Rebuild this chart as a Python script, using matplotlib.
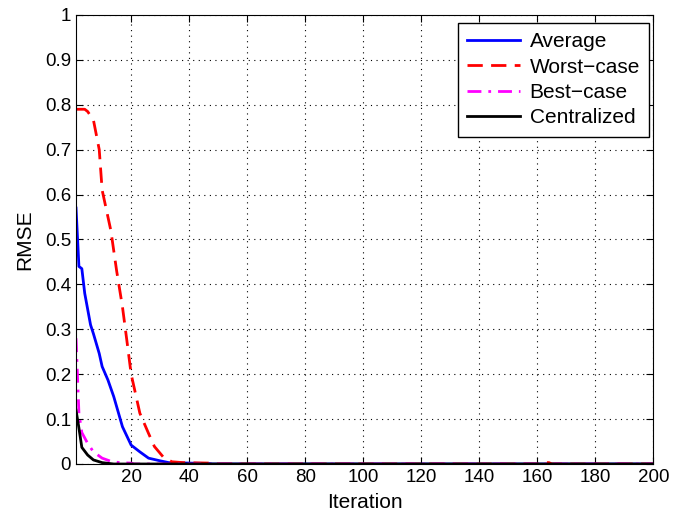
import numpy as np
import matplotlib.pyplot as plt

plt.rcParams['font.family'] = ['Liberation Sans', 'DejaVu Sans']

# values
avg_x = [1, 2, 3, 4, 6, 7, 9, 10, 12, 14, 17, 20, 23, 26, 30, 33, 40, 47, 48, 200]
avg_y = [0.57, 0.44, 0.435, 0.38, 0.31, 0.29, 0.246, 0.217, 0.187, 0.15, 0.083, 0.042,
         0.027, 0.013, 0.007, 0.003, 0.002, 0.001, 0.0, 0.0]

worst_x = [1, 4, 5, 7, 9, 10, 13, 15, 17, 18.5, 20, 23, 26, 28, 31, 34, 38, 47, 48,
           96, 97, 98, 161, 162, 164, 165, 200]
worst_y = [0.79, 0.79, 0.785, 0.766, 0.70, 0.61, 0.52, 0.43, 0.35, 0.276, 0.20, 0.113,
           0.068, 0.039, 0.016, 0.005, 0.003, 0.002, 0.0,
           0.0, 0.002, 0.0, 0.0, 0.003, 0.003, 0.0, 0.0]

best_x = [1, 2, 3, 5, 7, 10, 13, 16, 20, 21, 200]
best_y = [0.28, 0.113, 0.07, 0.046, 0.027, 0.013, 0.006, 0.003, 0.002, 0.0, 0.0]

cent_x = [1, 2, 3, 5, 7, 10, 14, 200]
cent_y = [0.12, 0.08, 0.037, 0.02, 0.009, 0.003, 0.0, 0.0]

fig = plt.figure(figsize=(6.74, 5.16), dpi=100)
ax = fig.add_axes([0.1128, 0.1008, 0.8567, 0.8702])

ax.plot(avg_x, avg_y, color='blue', lw=2, label='Average')
ax.plot(worst_x, worst_y, color='red', lw=2, ls=(0, (5.5, 3)), label='Worst\u2212case')
ax.plot(best_x, best_y, color='magenta', lw=2, ls=(0, (5, 2.5, 1, 2.5)), label='Best\u2212case')
ax.plot(cent_x, cent_y, color='black', lw=2, label='Centralized')

ax.set_xlim(1, 200)
ax.set_ylim(0, 1)
ax.set_xticks(np.arange(20, 201, 20))
ax.set_yticks(np.arange(0, 1.01, 0.1))
ax.set_yticklabels(['0', '0.1', '0.2', '0.3', '0.4', '0.5', '0.6', '0.7', '0.8', '0.9', '1'])
ax.tick_params(direction='in', top=True, right=True, labelsize=13.5, length=5)
ax.grid(True, color='black', ls=(0, (1, 4)), lw=0.8)
ax.set_xlabel('Iteration', fontsize=15, labelpad=5)
ax.set_ylabel('RMSE', fontsize=15, labelpad=8)

leg = ax.legend(loc='upper right', bbox_to_anchor=(0.993, 0.982), fontsize=15,
                fancybox=False, edgecolor='black', framealpha=1, borderaxespad=0,
                handlelength=2.55, handletextpad=0.45, labelspacing=0.3, borderpad=0.45)
leg.get_frame().set_linewidth(1)

fig.savefig('out.png')
